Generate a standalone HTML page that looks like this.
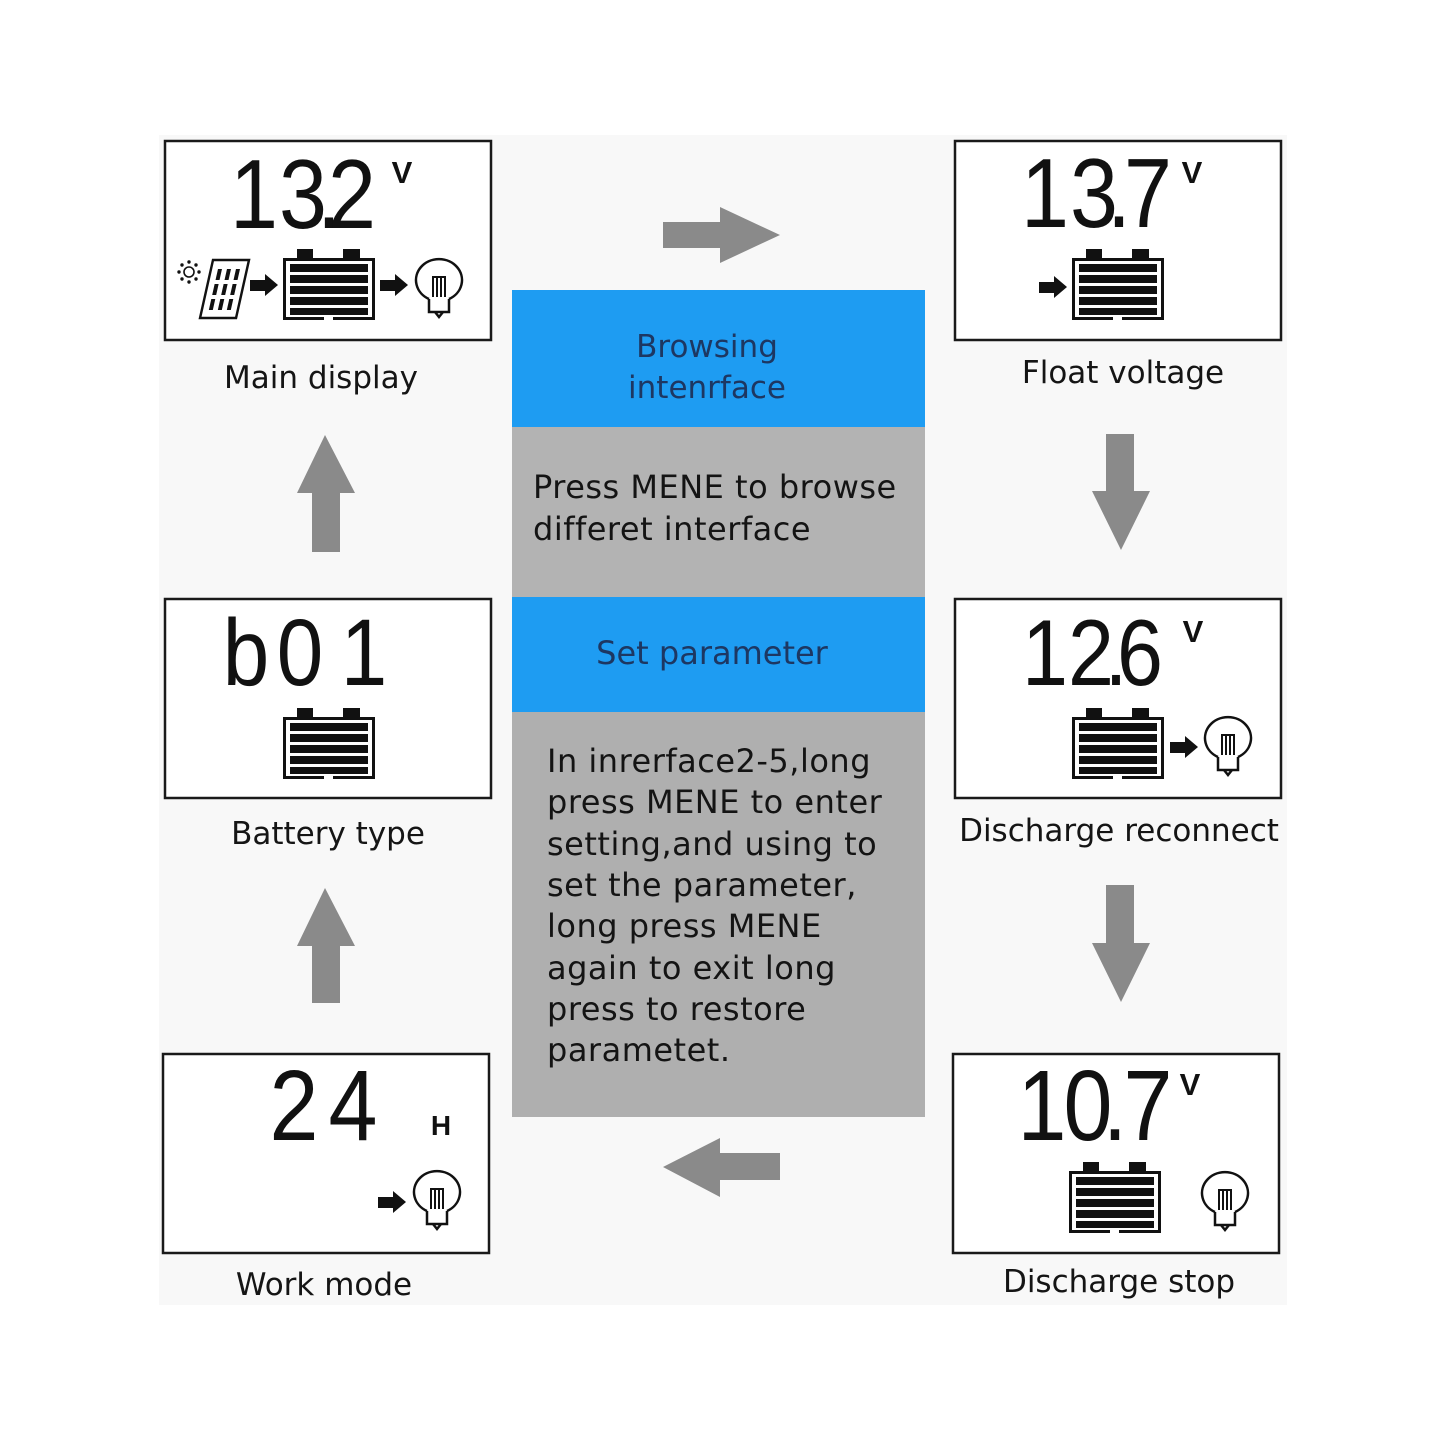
<!DOCTYPE html>
<html>
<head>
<meta charset="utf-8">
<style>
  html,body{margin:0;padding:0;background:#ffffff;}
  svg{display:block;}
  .lbl{font-family:"DejaVu Sans","Liberation Sans",sans-serif;font-size:31px;fill:#151515;}
  .seg{font-family:"Liberation Sans",sans-serif;fill:#111;}
  .unit{font-family:"Liberation Sans",sans-serif;font-weight:bold;fill:#111;}
  .hd{font-family:"DejaVu Sans","Liberation Sans",sans-serif;font-size:31px;fill:#1d3762;}
  .bd{font-family:"DejaVu Sans","Liberation Sans",sans-serif;font-size:32px;fill:#141414;letter-spacing:0.5px;}
</style>
</head>
<body>
<svg width="1445" height="1445" viewBox="0 0 1445 1445" xmlns="http://www.w3.org/2000/svg">
  <rect x="0" y="0" width="1445" height="1445" fill="#ffffff"/>
  <rect x="159" y="135" width="1128" height="1170" fill="#f8f8f8"/>

  <!-- Center panel -->
  <rect x="512" y="290" width="413" height="137" fill="#1e9cf2"/>
  <rect x="512" y="427" width="413" height="170" fill="#b3b3b3"/>
  <rect x="512" y="597" width="413" height="115" fill="#1e9cf2"/>
  <rect x="512" y="712" width="413" height="405" fill="#afafaf"/>

  <text class="hd" x="707" y="357" text-anchor="middle">Browsing</text>
  <text class="hd" x="707" y="398" text-anchor="middle">intenrface</text>
  <text class="bd" x="533" y="498">Press MENE to browse</text>
  <text class="bd" x="533" y="540">differet interface</text>
  <text class="hd" x="712" y="664" text-anchor="middle" style="font-size:32px">Set parameter</text>
  <text class="bd" x="547" y="772">In inrerface2-5,long</text>
  <text class="bd" x="547" y="813">press MENE to enter</text>
  <text class="bd" x="547" y="855">setting,and using to</text>
  <text class="bd" x="547" y="896">set the parameter,</text>
  <text class="bd" x="547" y="937">long press MENE</text>
  <text class="bd" x="547" y="979">again to exit long</text>
  <text class="bd" x="547" y="1020">press to restore</text>
  <text class="bd" x="547" y="1061">parametet.</text>

  <!-- Big gray arrows -->
  <g fill="#8a8a8a">
    <polygon points="663,222 720,222 720,207 780,235 720,263 720,248 663,248"/>
    <polygon points="780,1153 720,1153 720,1138 663,1167 720,1197 720,1180 780,1180"/>
    <polygon points="325,435 355,493 340,493 340,552 312,552 312,493 297,493"/>
    <polygon points="325,888 355,946 340,946 340,1003 312,1003 312,946 297,946"/>
    <polygon points="1106,434 1134,434 1134,491 1150,491 1121,550 1092,491 1106,491"/>
    <polygon points="1106,885 1134,885 1134,943 1150,943 1121,1002 1092,943 1106,943"/>
  </g>

  <!-- LCD boxes -->
  <g fill="#ffffff" stroke="#1a1a1a" stroke-width="2.5">
    <rect x="165" y="141" width="326" height="199"/>
    <rect x="955" y="141" width="326" height="199"/>
    <rect x="165" y="599" width="326" height="199"/>
    <rect x="955" y="599" width="326" height="199"/>
    <rect x="163" y="1054" width="326" height="199"/>
    <rect x="953" y="1054" width="326" height="199"/>
  </g>

  <!-- Digits -->
  <text class="seg" font-size="98" text-anchor="middle" transform="scale(0.88,1)" x="288.6 344.3 373.9 400" y="228">13.2</text>
  <text class="unit" font-size="31" text-anchor="middle" x="402" y="183">V</text>

  <text class="seg" font-size="98" text-anchor="middle" transform="scale(0.88,1)" x="1187.5 1243.2 1271.6 1304.5" y="227">13.7</text>
  <text class="unit" font-size="31" text-anchor="middle" x="1192" y="183">V</text>

  <text class="seg" font-size="95" text-anchor="middle" transform="scale(0.88,1)" x="279.5 340.9 413.6" y="685">b01</text>

  <text class="seg" font-size="94" text-anchor="middle" transform="scale(0.88,1)" x="1187.5 1239.8 1268.2 1295.5" y="685">12.6</text>
  <text class="unit" font-size="31" text-anchor="middle" x="1193" y="642">V</text>

  <text class="seg" font-size="100" text-anchor="middle" transform="scale(0.88,1)" x="334.1 401.1" y="1140">24</text>
  <text class="unit" font-size="28" text-anchor="middle" x="441" y="1135">H</text>

  <text class="seg" font-size="100" text-anchor="middle" transform="scale(0.88,1)" x="1184.1 1236.4 1267 1304.5" y="1140">10.7</text>
  <text class="unit" font-size="31" text-anchor="middle" x="1190" y="1095">V</text>

  <!-- Batteries -->
  <g transform="translate(283,258)">
    <rect x="14" y="-9" width="16" height="10" fill="#111"/>
    <rect x="60" y="-9" width="17" height="10" fill="#111"/>
    <rect x="1.5" y="1.5" width="89" height="59" fill="#fff" stroke="#111" stroke-width="3"/>
    <rect x="7" y="6" width="78" height="8" fill="#111"/>
    <rect x="7" y="17" width="78" height="8" fill="#111"/>
    <rect x="7" y="28" width="78" height="8" fill="#111"/>
    <rect x="7" y="39" width="78" height="8" fill="#111"/>
    <rect x="7" y="50" width="78" height="7" fill="#111"/>
    <rect x="41" y="58" width="9" height="5" fill="#fff"/>
  </g>
  <g transform="translate(1072,258)">
    <rect x="14" y="-9" width="16" height="10" fill="#111"/>
    <rect x="60" y="-9" width="17" height="10" fill="#111"/>
    <rect x="1.5" y="1.5" width="89" height="59" fill="#fff" stroke="#111" stroke-width="3"/>
    <rect x="7" y="6" width="78" height="8" fill="#111"/>
    <rect x="7" y="17" width="78" height="8" fill="#111"/>
    <rect x="7" y="28" width="78" height="8" fill="#111"/>
    <rect x="7" y="39" width="78" height="8" fill="#111"/>
    <rect x="7" y="50" width="78" height="7" fill="#111"/>
    <rect x="41" y="58" width="9" height="5" fill="#fff"/>
  </g>
  <g transform="translate(283,717)">
    <rect x="14" y="-9" width="16" height="10" fill="#111"/>
    <rect x="60" y="-9" width="17" height="10" fill="#111"/>
    <rect x="1.5" y="1.5" width="89" height="59" fill="#fff" stroke="#111" stroke-width="3"/>
    <rect x="7" y="6" width="78" height="8" fill="#111"/>
    <rect x="7" y="17" width="78" height="8" fill="#111"/>
    <rect x="7" y="28" width="78" height="8" fill="#111"/>
    <rect x="7" y="39" width="78" height="8" fill="#111"/>
    <rect x="7" y="50" width="78" height="7" fill="#111"/>
    <rect x="41" y="58" width="9" height="5" fill="#fff"/>
  </g>
  <g transform="translate(1072,717)">
    <rect x="14" y="-9" width="16" height="10" fill="#111"/>
    <rect x="60" y="-9" width="17" height="10" fill="#111"/>
    <rect x="1.5" y="1.5" width="89" height="59" fill="#fff" stroke="#111" stroke-width="3"/>
    <rect x="7" y="6" width="78" height="8" fill="#111"/>
    <rect x="7" y="17" width="78" height="8" fill="#111"/>
    <rect x="7" y="28" width="78" height="8" fill="#111"/>
    <rect x="7" y="39" width="78" height="8" fill="#111"/>
    <rect x="7" y="50" width="78" height="7" fill="#111"/>
    <rect x="41" y="58" width="9" height="5" fill="#fff"/>
  </g>
  <g transform="translate(1069,1171)">
    <rect x="14" y="-9" width="16" height="10" fill="#111"/>
    <rect x="60" y="-9" width="17" height="10" fill="#111"/>
    <rect x="1.5" y="1.5" width="89" height="59" fill="#fff" stroke="#111" stroke-width="3"/>
    <rect x="7" y="6" width="78" height="8" fill="#111"/>
    <rect x="7" y="17" width="78" height="8" fill="#111"/>
    <rect x="7" y="28" width="78" height="8" fill="#111"/>
    <rect x="7" y="39" width="78" height="8" fill="#111"/>
    <rect x="7" y="50" width="78" height="7" fill="#111"/>
    <rect x="41" y="58" width="9" height="5" fill="#fff"/>
  </g>

  <!-- Bulbs -->
  <g transform="translate(439,280)" fill="none" stroke="#111" stroke-width="2.5">
    <path d="M-10 19 A23 21 0 1 1 10 19"/>
    <path d="M-10 19 V32 H10 V19"/>
    <path d="M-4 32 L0 37 L4 32"/>
    <path d="M-6 17 V-3 H6 V17 M-2 -3 V17 M2 -3 V17" stroke-width="2"/>
  </g>
  <g transform="translate(1228,738)" fill="none" stroke="#111" stroke-width="2.5">
    <path d="M-10 19 A23 21 0 1 1 10 19"/>
    <path d="M-10 19 V32 H10 V19"/>
    <path d="M-4 32 L0 37 L4 32"/>
    <path d="M-6 17 V-3 H6 V17 M-2 -3 V17 M2 -3 V17" stroke-width="2"/>
  </g>
  <g transform="translate(437,1192)" fill="none" stroke="#111" stroke-width="2.5">
    <path d="M-10 19 A23 21 0 1 1 10 19"/>
    <path d="M-10 19 V32 H10 V19"/>
    <path d="M-4 32 L0 37 L4 32"/>
    <path d="M-6 17 V-3 H6 V17 M-2 -3 V17 M2 -3 V17" stroke-width="2"/>
  </g>
  <g transform="translate(1225,1193)" fill="none" stroke="#111" stroke-width="2.5">
    <path d="M-10 19 A23 21 0 1 1 10 19"/>
    <path d="M-10 19 V32 H10 V19"/>
    <path d="M-4 32 L0 37 L4 32"/>
    <path d="M-6 17 V-3 H6 V17 M-2 -3 V17 M2 -3 V17" stroke-width="2"/>
  </g>

  <!-- Small black arrows -->
  <g fill="#111">
    <polygon points="250,280 265,280 265,274 278,285 265,296 265,291 250,291"/>
    <polygon points="380,280 395,280 395,274 408,285 395,296 395,291 380,291"/>
    <polygon points="1039,282 1054,282 1054,276 1067,287 1054,298 1054,293 1039,293"/>
    <polygon points="1170,742 1185,742 1185,736 1198,747 1185,758 1185,753 1170,753"/>
    <polygon points="378,1197 393,1197 393,1191 406,1202 393,1213 393,1208 378,1208"/>
  </g>

  <!-- Sun -->
  <g transform="translate(189,272)" fill="#111">
    <circle r="5" fill="none" stroke="#111" stroke-width="1.6"/>
    <circle cx="0" cy="-10" r="1.7"/>
    <circle cx="7" cy="-7" r="1.7"/>
    <circle cx="10" cy="0" r="1.7"/>
    <circle cx="7" cy="7" r="1.7"/>
    <circle cx="0" cy="10" r="1.7"/>
    <circle cx="-7" cy="7" r="1.7"/>
    <circle cx="-10" cy="0" r="1.7"/>
    <circle cx="-7" cy="-7" r="1.7"/>
  </g>

  <!-- Solar panel -->
  <g transform="translate(213,260) skewX(-12.6)">
    <rect x="0" y="0" width="36" height="58" fill="#fff" stroke="#111" stroke-width="2.5"/>
    <g fill="#111">
      <rect x="7" y="9" width="4" height="11"/>
      <rect x="16" y="9" width="4" height="11"/>
      <rect x="25" y="9" width="4" height="11"/>
      <rect x="7" y="24" width="4" height="11"/>
      <rect x="16" y="24" width="4" height="11"/>
      <rect x="25" y="24" width="4" height="11"/>
      <rect x="7" y="39" width="4" height="11"/>
      <rect x="16" y="39" width="4" height="11"/>
      <rect x="25" y="39" width="4" height="11"/>
    </g>
  </g>

  <!-- Labels -->
  <text class="lbl" x="321" y="388" text-anchor="middle">Main display</text>
  <text class="lbl" x="1123" y="383" text-anchor="middle">Float voltage</text>
  <text class="lbl" x="328" y="844" text-anchor="middle">Battery type</text>
  <text class="lbl" x="1119" y="841" text-anchor="middle">Discharge reconnect</text>
  <text class="lbl" x="324" y="1295" text-anchor="middle">Work mode</text>
  <text class="lbl" x="1119" y="1292" text-anchor="middle">Discharge stop</text>
</svg>
</body>
</html>
